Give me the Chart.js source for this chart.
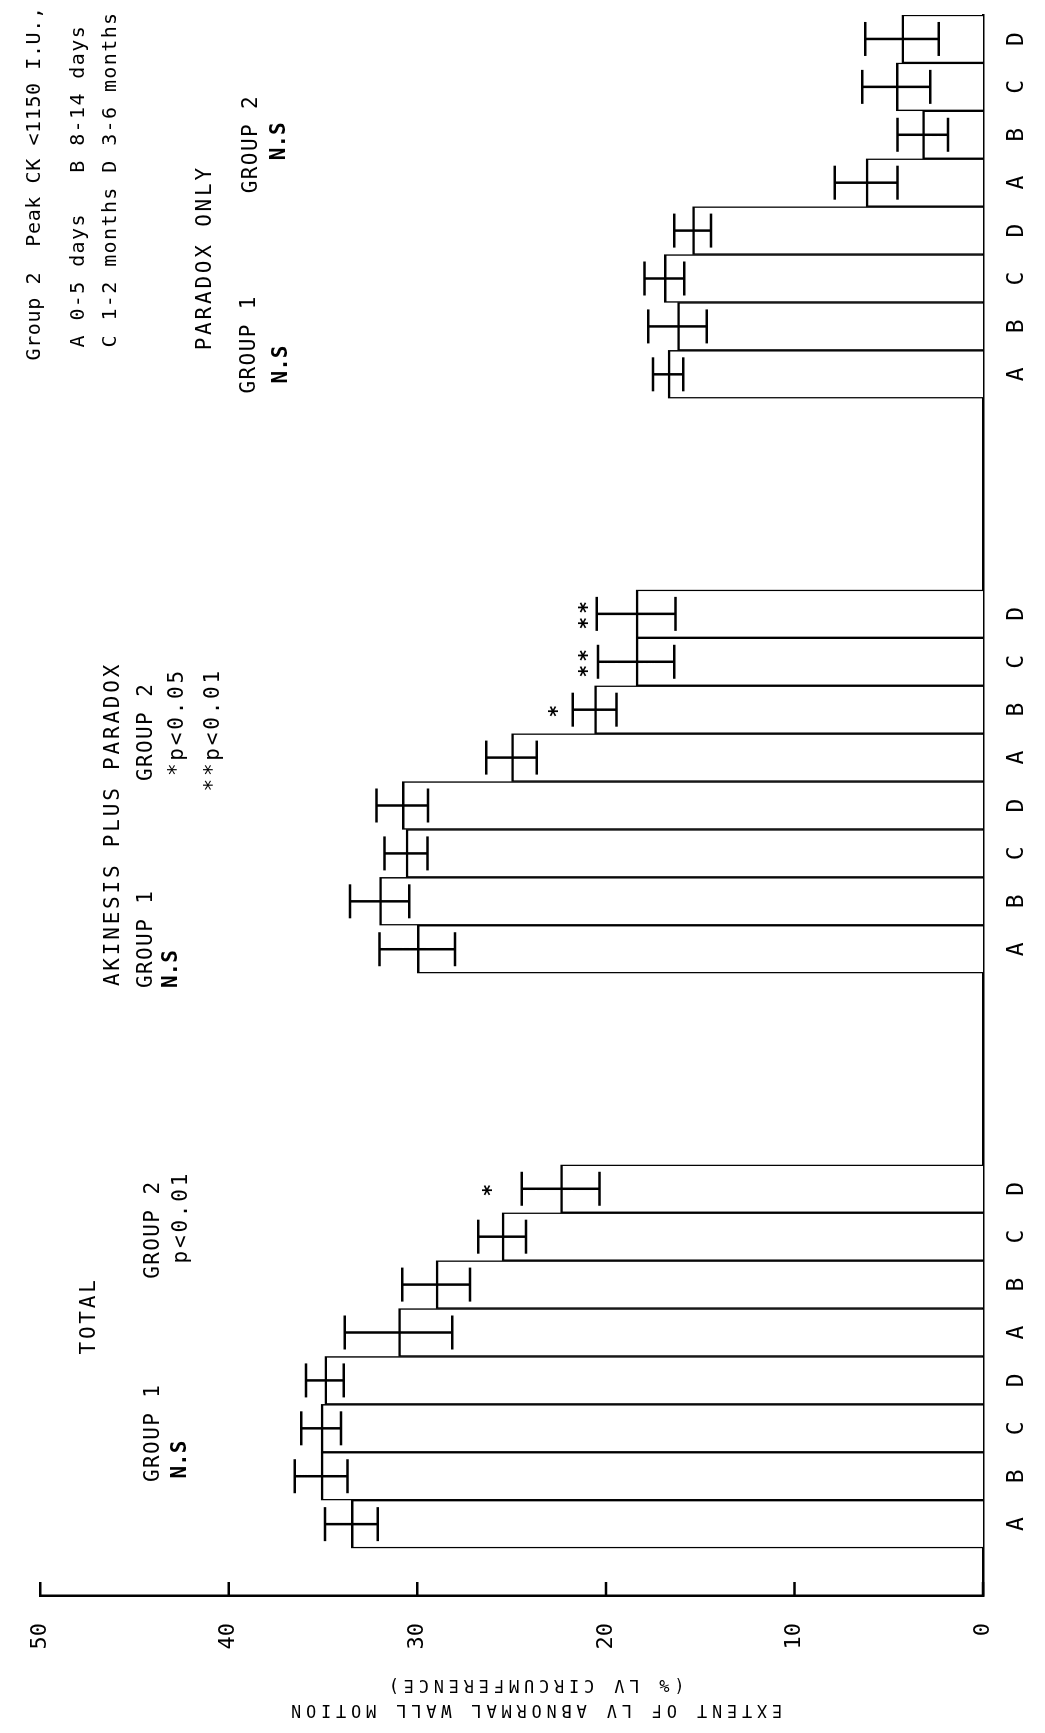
<!DOCTYPE html>
<html>
<head>
<meta charset="utf-8">
<title>Extent of LV abnormal wall motion</title>
<script src="https://cdn.jsdelivr.net/npm/chart.js@4.4.0/dist/chart.umd.min.js"></script>
<style>
  html, body { margin: 0; padding: 0; background: #fff; width: 1045px; height: 1733px; overflow: hidden; }
  /* chart is drawn upright, then turned a quarter turn like the printed figure */
  #wrap { position: absolute; left: 0; top: 0; width: 1733px; height: 1045px;
          transform-origin: 0 0; transform: translate(0, 1733px) rotate(-90deg); }
</style>
</head>
<body>
<div id="wrap"><canvas id="wallChart" width="1733" height="1045"></canvas></div>
<script>
const ctx = document.getElementById('wallChart').getContext('2d');

// A-D = time after infarction (see key)
const periods = ['A', 'B', 'C', 'D'];
const valueTicks = [0, 10, 20, 30, 40, 50];

// TOTAL
const totalG1 = [33.5, 35.1, 35.1, 34.9];
const totalG1Err = [1.4, 1.4, 1.05, 1.0];
const totalG2 = [31.0, 29.0, 25.5, 22.4];
const totalG2Err = [2.85, 1.8, 1.27, 2.06];

// AKINESIS PLUS PARADOX
const akinG1 = [30.0, 32.0, 30.6, 30.8];
const akinG1Err = [2.0, 1.57, 1.14, 1.37];
const akinG2 = [25.0, 20.6, 18.4, 18.4];
const akinG2Err = [1.34, 1.16, 2.02, 2.09];

// PARADOX ONLY
const parG1 = [16.7, 16.2, 16.9, 15.4];
const parG1Err = [0.8, 1.55, 1.05, 0.97];
const parG2 = [6.2, 3.2, 4.6, 4.3];
const parG2Err = [1.66, 1.34, 1.8, 1.95];

// one empty slot before the first bar, four between sections
const gap = [null, null, null, null];
const blanks = ['', '', '', ''];
const labels = [''].concat(periods, periods, blanks, periods, periods, blanks, periods, periods);
const values = [null].concat(totalG1, totalG2, gap, akinG1, akinG2, gap, parG1, parG2);
const errors = [null].concat(totalG1Err, totalG2Err, gap, akinG1Err, akinG2Err, gap, parG1Err, parG2Err);

const axisTitle = ['EXTENT OF LV ABNORMAL WALL MOTION', '(% LV CIRCUMFERENCE)'];

// text on the chart: [text, slot, value, style]
const notes = [
  ['TOTAL', 4.54, 47.4, 'head'],
  ['GROUP 1', 1.88, 43.98, 'group'],
  ['N.S', 1.95, 42.58, 'ns'],
  ['GROUP 2', 6.12, 43.98, 'group'],
  ['p<0.01', 6.44, 42.53, 'head'],
  ['*', 8, 26.3, 'star'],
  ['AKINESIS PLUS PARADOX', 12.23, 46.11, 'head'],
  ['GROUP 1', 12.19, 44.35, 'group'],
  ['N.S', 12.19, 43.05, 'ns'],
  ['GROUP 2', 16.51, 44.35, 'group'],
  ['*p<0.05', 18.87, 42.69, 'headR'],
  ['**p<0.01', 18.87, 40.82, 'headR'],
  ['*', 18, 22.8, 'star'],
  ['**', 19, 21.2, 'star'],
  ['**', 20, 21.2, 'star'],
  ['PARADOX ONLY', 25.5, 41.23, 'head'],
  ['GROUP 1', 24.6, 38.9, 'group'],
  ['N.S', 24.81, 37.19, 'ns'],
  ['GROUP 2', 28.78, 38.8, 'group'],
  ['N.S', 29.47, 37.29, 'ns'],
  ['Group 2  Peak CK <1150 I.U.,', 25.29, 50.31, 'key1'],
  ['A 0-5 days   B 8-14 days', 25.56, 47.93, 'key'],
  ['C 1-2 months D 3-6 months', 25.56, 46.27, 'key']
];

const mono = '"DejaVu Sans Mono"';
const styles = {
  head:  { font: '21px ' + mono, spacing: 2.8, align: 'left' },
  headR: { font: '21px ' + mono, spacing: 2.8, align: 'right' },
  group: { font: '21px ' + mono, spacing: 1.4, align: 'left' },
  ns:    { font: 'bold 21px ' + mono, spacing: 0, align: 'left' },
  key1:  { font: '20px ' + mono, spacing: 0.6, align: 'left' },
  key:   { font: '20px ' + mono, spacing: 1.4, align: 'left' },
  star:  { font: 'bold 21px ' + mono, spacing: 3, align: 'center', dy: 5 }
};

const errorBars = {
  id: 'errorBars',
  afterDatasetsDraw(chart) {
    const { ctx, chartArea, scales: { x, y } } = chart;
    ctx.save();
    ctx.strokeStyle = '#000';
    ctx.lineWidth = 2.5;
    ctx.beginPath();
    values.forEach((v, i) => {
      if (v === null) return;
      const px = x.getPixelForValue(i);
      const lo = y.getPixelForValue(v - errors[i]);
      const hi = y.getPixelForValue(v + errors[i]);
      ctx.moveTo(px, lo); ctx.lineTo(px, hi);
      ctx.moveTo(px - 17, lo); ctx.lineTo(px + 17, lo);
      ctx.moveTo(px - 17, hi); ctx.lineTo(px + 17, hi);
    });
    // tick marks point in towards the bars
    y.ticks.forEach(t => {
      const py = y.getPixelForValue(t.value);
      ctx.moveTo(chartArea.left, py);
      ctx.lineTo(chartArea.left + 14, py);
    });
    ctx.stroke();
    ctx.restore();
  }
};

const chartNotes = {
  id: 'chartNotes',
  afterDraw(chart) {
    const { ctx, chartArea, scales: { x, y } } = chart;
    ctx.save();
    ctx.fillStyle = '#000';
    ctx.textBaseline = 'middle';
    notes.forEach(([text, slot, value, kind]) => {
      const st = styles[kind];
      ctx.font = st.font;
      ctx.letterSpacing = st.spacing + 'px';
      ctx.textAlign = st.align;
      ctx.fillText(text, x.getPixelForValue(slot), y.getPixelForValue(value) + (st.dy || 0));
    });
    // value axis title
    ctx.font = '17px ' + mono;
    ctx.letterSpacing = '4.8px';
    ctx.textAlign = 'center';
    const cy = y.getPixelForValue(23.8);
    axisTitle.forEach((line, i) => {
      ctx.save();
      ctx.translate(chartArea.left - 113 + i * 25, cy);
      ctx.rotate(-Math.PI / 2);
      ctx.fillText(line, 0, 0);
      ctx.restore();
    });
    ctx.restore();
  }
};

const myChart = new Chart(ctx, {
  type: 'bar',
  data: {
    labels,
    datasets: [{
      data: values,
      backgroundColor: '#fff',
      borderColor: '#000',
      borderWidth: { top: 2.5, left: 1.5, right: 1.5, bottom: 0 },
      borderSkipped: 'start',
      barPercentage: 1,
      categoryPercentage: 1
    }]
  },
  options: {
    responsive: false,
    animation: false,
    layout: { padding: { top: 19, right: 15, bottom: 0, left: 0 } },
    plugins: {
      legend: { display: false },
      tooltip: { enabled: false }
    },
    scales: {
      x: {
        grid: { display: false, drawTicks: false },
        border: { display: true, color: '#000', width: 2.5 },
        ticks: {
          autoSkip: false,
          maxRotation: 0,
          padding: 20,
          color: '#000',
          font: { family: 'DejaVu Sans Mono', size: 23 }
        },
        afterFit: (scale) => { scale.height = 62; }
      },
      y: {
        min: 0,
        max: 50,
        afterBuildTicks: (scale) => { scale.ticks = valueTicks.map(v => ({ value: v })); },
        grid: { display: false, drawTicks: false },
        border: { display: true, color: '#000', width: 2.5 },
        ticks: {
          padding: 27,
          color: '#000',
          font: { family: 'DejaVu Sans Mono', size: 22 }
        },
        afterFit: (scale) => { scale.width = 137; }
      }
    }
  },
  plugins: [errorBars, chartNotes]
});
</script>
</body>
</html>
